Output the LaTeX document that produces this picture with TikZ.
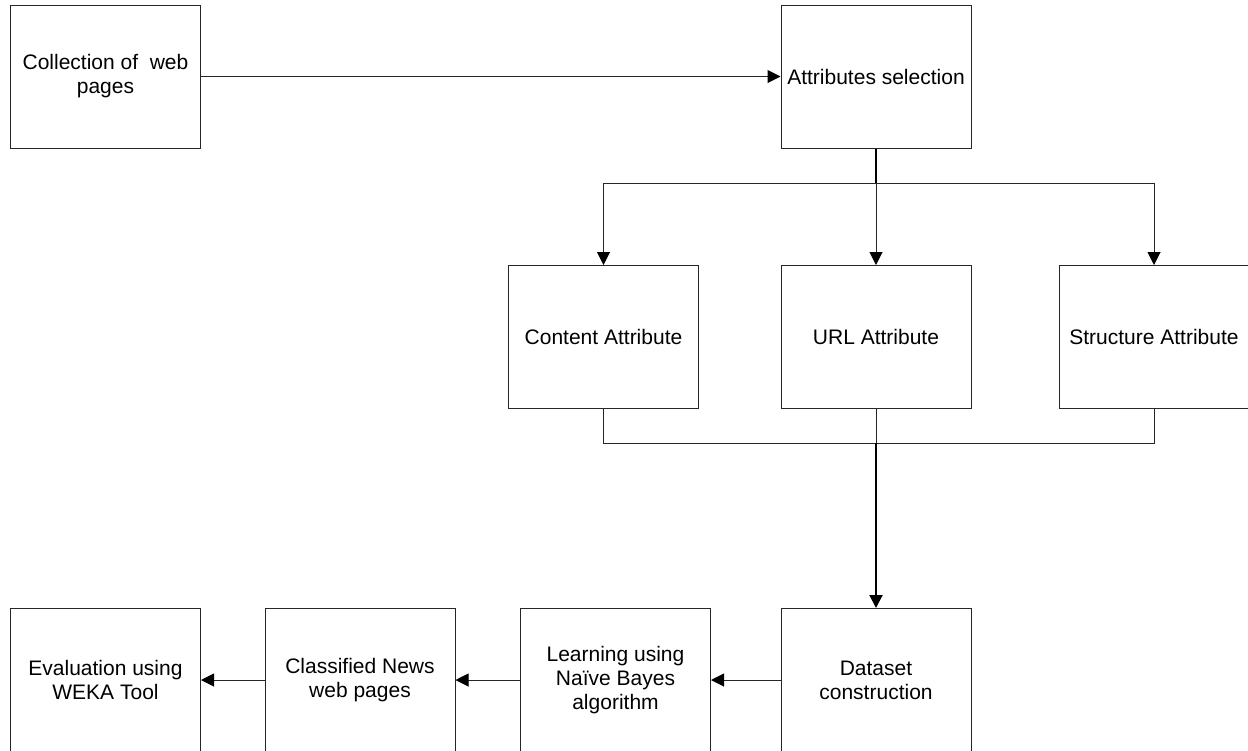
\documentclass[tikz,border=0pt]{standalone}
\usepackage{fontspec}
\setmainfont{Liberation Sans}
\usetikzlibrary{arrows.meta}
\begin{document}
\begin{tikzpicture}[x=1pt,y=-1pt,
  box/.style={draw=black!85,line width=1pt,minimum width=190pt,minimum height=143pt,
    inner sep=0pt,align=center,font=\fontsize{21}{24}\selectfont},
  link/.style={draw=black!85,line width=1pt},
  trunk/.style={draw=black,line width=2pt},
  tip/.style={-{Triangle[length=13pt,width=13pt,color=black]}}]
\clip (0,0) rectangle (1248,750);
% top row
\node[box] (coll) at (105.5,76.5) {Collection of~~web\\pages};
\node[box] (attr) at (876,76.5) {Attributes selection};
% attribute kinds
\node[box] (cont) at (603.5,337) {Content Attribute};
\node[box] (url) at (876,337) {URL Attribute};
\node[box] (strc) at (1154,337) {Structure Attribute};
% bottom row
\node[box] (data) at (876,680) {Dataset\\construction};
\node[box] (learn) at (615.5,680) {Learning using\\Naïve Bayes\\algorithm};
\node[box] (cls) at (360,680) {Classified News\\web pages};
\node[box] (eval) at (105.5,680) {Evaluation using\\WEKA Tool};
% branch and join points
\coordinate (split) at (876,183);
\coordinate (join) at (876,443);
% connectors
\draw[link,tip] (coll.east) -- (attr.west);
\draw[trunk] (attr.south) -- (split);
\draw[link] (cont.north |- split) -- (strc.north |- split);
\draw[link,tip] (cont.north |- split) -- (cont.north);
\draw[link,tip] (split) -- (url.north);
\draw[link,tip] (strc.north |- split) -- (strc.north);
\draw[link] (cont.south) -- (cont.south |- join) -- (strc.south |- join) -- (strc.south);
\draw[link] (url.south) -- (join);
\draw[trunk,tip] (join) -- (data.north);
\draw[link,tip] (data.west) -- (learn.east);
\draw[link,tip] (learn.west) -- (cls.east);
\draw[link,tip] (cls.west) -- (eval.east);
\end{tikzpicture}
\end{document}
